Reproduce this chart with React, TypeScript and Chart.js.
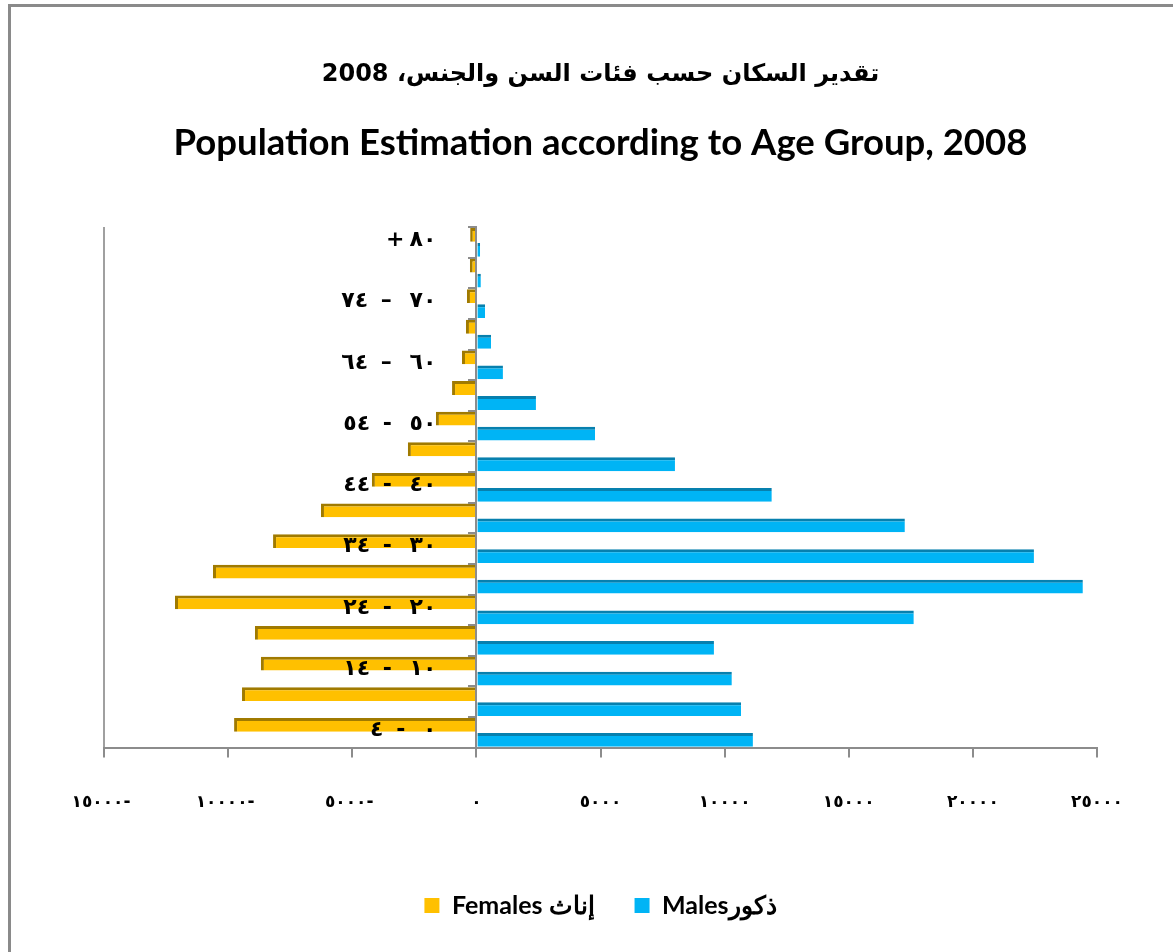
import { useEffect, useRef } from 'react';
import { Chart, registerables } from 'chart.js';

Chart.register(...registerables);

// ---- data ----
const ageGroups = [
  '٠ - ٤', '٥ - ٩', '١٠ - ١٤', '١٥ - ١٩', '٢٠ - ٢٤', '٢٥ - ٢٩', '٣٠ - ٣٤', '٣٥ - ٣٩',
  '٤٠ - ٤٤', '٤٥ - ٤٩', '٥٠ - ٥٤', '٥٥ - ٥٩', '٦٠ – ٦٤', '٦٥ – ٦٩', '٧٠ – ٧٤', '٧٥ – ٧٩', '+٨٠',
];
const shownAgeLabels = [true, false, true, false, true, false, true, false, true, false, true, false, true, false, true, false, true];
const femalesValues = [9760, 9440, 8680, 8920, 12140, 10610, 8190, 6260, 4210, 2760, 1630, 980, 580, 420, 380, 260, 250];
const malesValues = [11140, 10660, 10290, 9570, 17620, 24430, 22460, 17260, 11900, 8000, 4780, 2400, 1070, 590, 350, 180, 150];
const xTickValues = [-15000, -10000, -5000, 0, 5000, 10000, 15000, 20000, 25000];
const femalesLabel = 'Females إناث';
const malesLabel = 'Malesذكور';
const titleArabic = 'تقدير السكان حسب فئات السن والجنس، 2008';
const titleEnglish = 'Population Estimation according to Age Group, 2008';

const arabicDigits = '٠١٢٣٤٥٦٧٨٩';
const toArabic = (n: number) =>
  String(Math.abs(n)).replace(/[0-9]/g, (d) => arabicDigits[+d]) + (n < 0 ? '-' : '');

export default function App() {
  const ref = useRef<HTMLCanvasElement>(null);

  useEffect(() => {
    document.body.style.margin = '0';
    const canvas = ref.current;
    if (!canvas) return;

    const spacingPlugin = {
      id: 'spacingAndAgeLabels',
      afterDatasetsDraw(chart: any) {
        (chart.ctx as any).letterSpacing = '6px';
      },
      afterDraw(chart: any) {
        const { ctx, scales } = chart;
        const xs = scales.x;
        const ys = scales.y;
        ctx.save();
        (ctx as any).letterSpacing = '5px';
        ctx.font = 'bold 22px "DejaVu Sans"';
        ctx.fillStyle = '#000';
        ctx.textAlign = 'right';
        ctx.textBaseline = 'middle';
        const xr = xs.getPixelForValue(0) - 40;
        ageGroups.forEach((lab, i) => {
          if (shownAgeLabels[i]) ctx.fillText(lab, xr, ys.getPixelForValue(i) - 2);
        });
        ctx.restore();
        (ctx as any).letterSpacing = '0px';
      },
    };

    const chart = new Chart(canvas, {
      type: 'bar',
      data: {
        labels: ageGroups,
        datasets: [
          {
            label: femalesLabel,
            data: femalesValues.map((v) => -v),
            backgroundColor: '#FFC000',
            borderColor: '#A07A00',
            borderWidth: { top: 3, left: 3, right: 0, bottom: 0 } as any,
            borderSkipped: false as any,
            categoryPercentage: 0.98,
            barPercentage: 0.92,
          },
          {
            label: malesLabel,
            data: malesValues,
            backgroundColor: '#00B4F5',
            borderColor: '#0780AE',
            borderWidth: { top: 3, left: 0, right: 0, bottom: 0 } as any,
            borderSkipped: false as any,
            categoryPercentage: 0.98,
            barPercentage: 0.92,
          },
        ],
      },
      options: {
        indexAxis: 'y',
        responsive: false,
        animation: false,
        layout: { padding: { left: 104, right: 76, top: 0, bottom: 24 } },
        scales: {
          x: {
            type: 'linear',
            min: -15000,
            max: 25000,
            afterBuildTicks: (axis: any) => {
              axis.ticks = xTickValues.map((v) => ({ value: v }));
            },
            afterFit: (axis: any) => {
              axis.height += 5;
            },
            ticks: {
              callback: (v: any) => toArabic(Number(v)),
              font: { family: 'DejaVu Sans', size: 17, weight: 'bold' },
              color: '#000',
              padding: 35,
              maxRotation: 0,
              autoSkip: false,
              z: 1,
            },
            grid: {
              color: (c: any) => (c.index === 0 ? '#a0a0a0' : 'rgba(0,0,0,0)'),
              tickColor: '#8c8c8c',
              tickLength: 10,
              lineWidth: 2,
              drawOnChartArea: true,
            },
            border: { color: '#8c8c8c', width: 2 },
          },
          y: {
            type: 'category',
            reverse: true,
            position: { x: 0 } as any,
            offset: true,
            ticks: { display: false },
            grid: {
              drawOnChartArea: false,
              tickLength: 7,
              color: '#8c8c8c',
              lineWidth: 2,
              offset: true,
              z: 1,
            },
            border: { color: '#8c8c8c', width: 2, z: 1 },
          },
        },
        plugins: {
          legend: {
            position: 'bottom',
            labels: {
              boxWidth: 15,
              boxHeight: 15,
              padding: 40,
              color: '#000',
              font: { family: 'Lato', size: 25, weight: 'bold' },
              generateLabels: (c: any) => {
                const items = Chart.defaults.plugins.legend.labels.generateLabels(c);
                items.forEach((it: any) => {
                  it.lineWidth = 0;
                  it.strokeStyle = 'rgba(0,0,0,0)';
                });
                return items;
              },
            },
          },
          title: {
            display: true,
            text: titleArabic,
            color: '#000',
            font: { family: 'DejaVu Sans', size: 24, weight: 'bold' },
            padding: { top: 60, bottom: 10 },
          },
          subtitle: {
            display: true,
            text: titleEnglish,
            color: '#000',
            font: { family: 'Lato', size: 36.5, weight: 'bold' },
            padding: { top: 23, bottom: 61.5 },
          },
          tooltip: { enabled: false },
        },
      },
      plugins: [spacingPlugin],
    });

    return () => chart.destroy();
  }, []);

  return (
    <div style={{ position: 'relative', width: 1173, height: 952, overflow: 'hidden', background: '#fff' }}>
      <canvas ref={ref} width={1173} height={952} style={{ position: 'absolute', left: 0, top: 0 }} />
      <div
        style={{
          position: 'absolute',
          left: 8,
          top: 4,
          width: 1200,
          height: 1000,
          borderLeft: '3px solid #8a8a8a',
          borderTop: '3px solid #8a8a8a',
          pointerEvents: 'none',
        }}
      />
    </div>
  );
}
